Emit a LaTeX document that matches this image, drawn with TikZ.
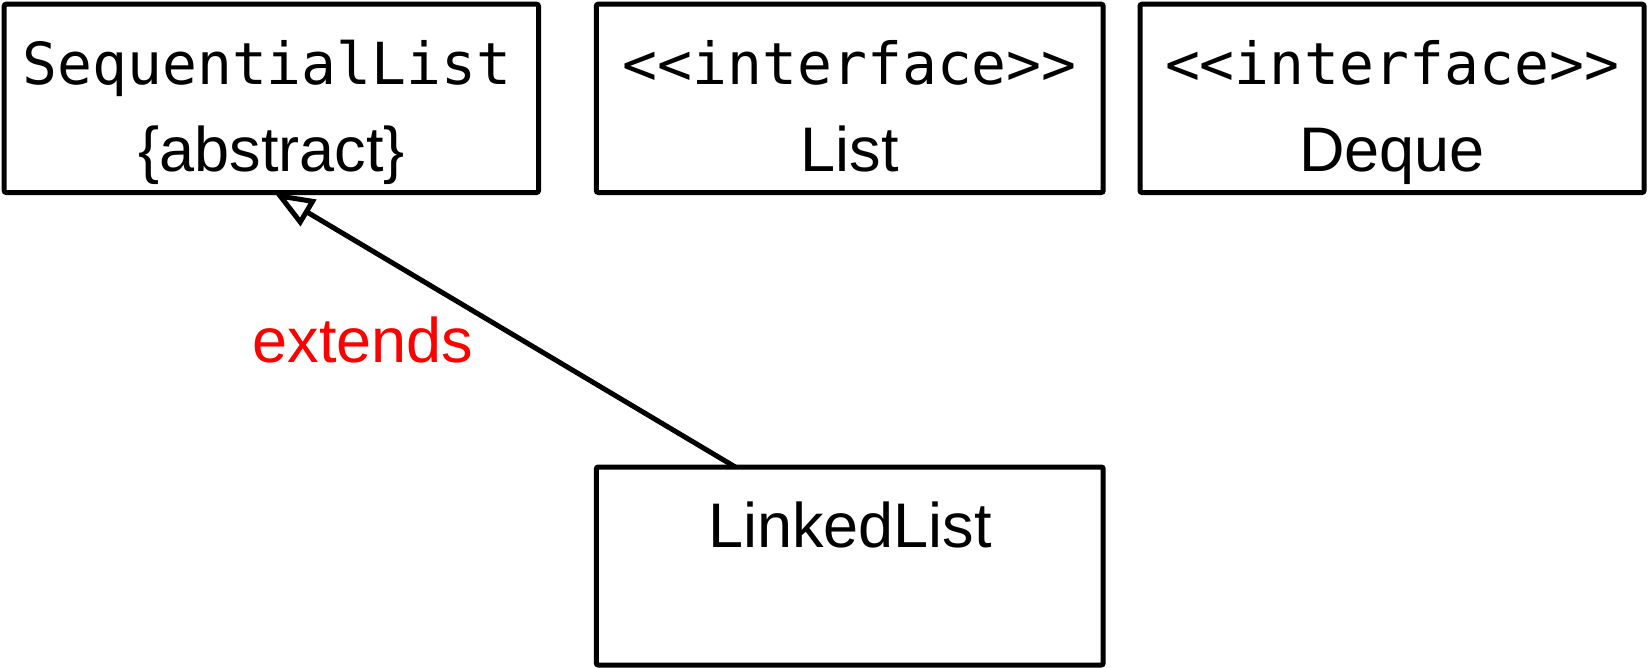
\documentclass[tikz,border=0pt]{standalone}
\usepackage{fontspec}
\setmainfont{Liberation Sans}
\newfontfamily\codefont{DejaVu Sans Mono}
\usetikzlibrary{arrows.meta,calc}
\tikzset{
  umlbox/.style={draw=black, line width=5pt, rounded corners=2pt, rectangle, inner sep=0pt, outer sep=0pt},
  codetext/.style={inner sep=0pt, anchor=base, font=\codefont\fontsize{58}{70}\selectfont},
  sanstext/.style={inner sep=0pt, anchor=base, font=\fontsize{63}{75}\selectfont},
  inherit/.style={draw=black, line width=5pt, -{Triangle[open, length=40pt, width=30pt]}}
}
\begin{document}
\begin{tikzpicture}[x=1pt, y=-1pt]
\useasboundingbox (0,0) rectangle (1649,667);
% boxes
\node[umlbox, minimum width=534.3pt, minimum height=188.3pt] (seq) at (271.35,98.35) {};
\node[umlbox, minimum width=506.9pt, minimum height=188.3pt] (lst) at (849.75,98.35) {};
\node[umlbox, minimum width=504pt, minimum height=188.3pt] (deq) at (1392,98.35) {};
\node[umlbox, minimum width=506.9pt, minimum height=198pt] (lnk) at (849.75,566) {};
% texts
\node[codetext] (seqname) at (267,84) {SequentialList};
\node[sanstext] (seqabs) at (271.5,171) {\{abstract\}};
\node[codetext] (lstster) at (849.75,84) {<<interface>>};
\node[sanstext] (lstname) at (849.75,171) {List};
\node[codetext] (deqster) at (1392,84) {<<interface>>};
\node[sanstext] (deqname) at (1392,171) {Deque};
\node[sanstext] (lnkname) at (850,547) {LinkedList};
% connector
\coordinate (lnktop) at ($(lnk.north west)+(139,0)$);
\coordinate (seqbot) at ($(seq.south west)+(270,0)$);
\draw[inherit] (lnktop) -- (seqbot);
\node[sanstext, text=red] (ext) at (363,362) {extends};
\end{tikzpicture}
\end{document}
